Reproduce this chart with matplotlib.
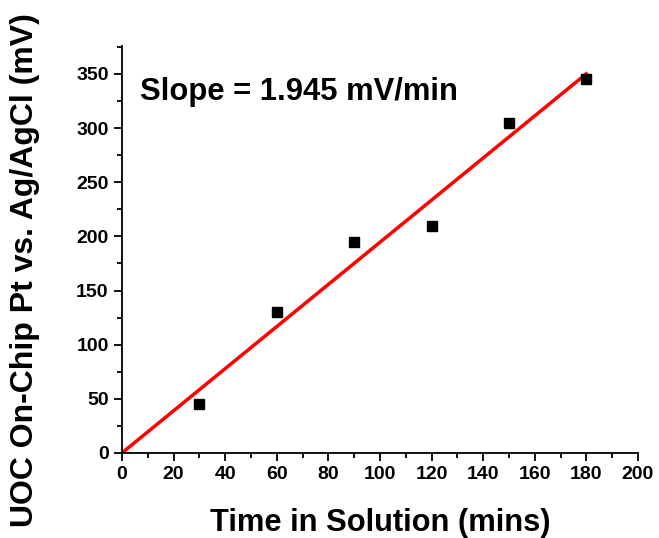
import matplotlib
matplotlib.use("Agg")
import matplotlib.pyplot as plt
from matplotlib.ticker import MultipleLocator
import numpy as np

# Open-circuit potential measurements over time
time_min = [30, 60, 90, 120, 150, 180]
uoc_mv = [45, 130, 195, 210, 305, 345]

# Linear fit through origin
slope = 1.945
fit_x = np.array([0, 180])
fit_y = slope * fit_x

plt.rcParams['font.family'] = ['Liberation Sans', 'DejaVu Sans']
plt.rcParams['font.weight'] = 'bold'

fig = plt.figure(figsize=(6.59, 5.38), dpi=100)
ax = fig.add_axes([0.185, 0.158, 0.783, 0.757])

ax.plot(fit_x, fit_y, color='#ff0000', lw=2.5, zorder=2)
ax.plot(time_min, uoc_mv, ls='none', marker='s', ms=6.5, color='black', zorder=3)

ax.set_xlim(0, 200)
ax.set_ylim(0, 376)
ax.xaxis.set_major_locator(MultipleLocator(20))
ax.xaxis.set_minor_locator(MultipleLocator(10))
ax.yaxis.set_major_locator(MultipleLocator(50))
ax.yaxis.set_minor_locator(MultipleLocator(25))

for s in ['top', 'right']:
    ax.spines[s].set_visible(False)
for s in ['left', 'bottom']:
    ax.spines[s].set_linewidth(1.3)

ax.tick_params(which='major', direction='out', length=6, width=1.3, labelsize=14)
ax.tick_params(which='minor', direction='out', length=3.5, width=1.3)
for lab in ax.get_xticklabels() + ax.get_yticklabels():
    lab.set_fontweight('bold')

ax.set_xlabel('Time in Solution (mins)', fontsize=22.2, fontweight='bold')
ax.set_ylabel('UOC On-Chip Pt vs. Ag/AgCl (mV)', fontsize=23, fontweight='bold')
ax.xaxis.set_label_coords(0.5, -0.134)
ax.yaxis.set_label_coords(-0.158, 0.45)

ax.text(7.0, 326, f'Slope = {slope} mV/min', fontsize=22.3, fontweight='bold', va='baseline')

fig.savefig('out.png', dpi=100)
